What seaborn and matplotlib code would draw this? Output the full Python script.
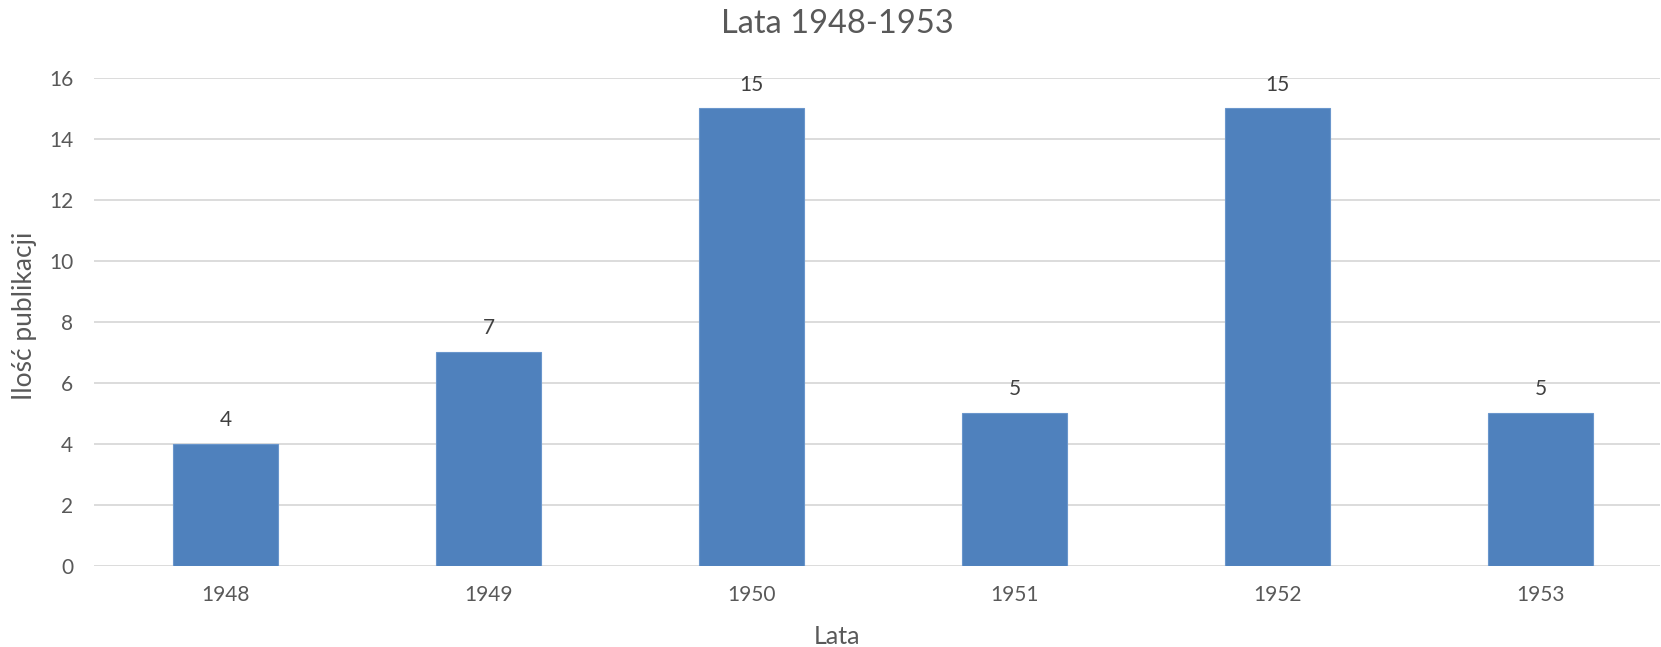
import seaborn as sns
import pandas as pd
import matplotlib.pyplot as plt

years = ['1948', '1949', '1950', '1951', '1952', '1953']
counts = [4, 7, 15, 5, 15, 5]

sns.set_theme(style='white')
plt.rcParams['font.family'] = ['Lato', 'DejaVu Sans']

df = pd.DataFrame({'Lata': years, 'count': counts})

W, H = 1661, 647
fig = plt.figure(figsize=(W / 100, H / 100), dpi=100)
# plot area in pixels: left 94, right 1660, top 78, bottom 565.5
ax = fig.add_axes([94 / W, (H - 565.5) / H, 1566 / W, 487.5 / H])

sns.barplot(data=df, x='Lata', y='count', color='#4F81BD', width=0.4,
            saturation=1, edgecolor='#6A96CC', linewidth=0.8, ax=ax, zorder=3)

ax.set_ylim(0, 16)
ax.set_yticks(range(0, 17, 2))
ax.set_xlim(-0.5, -0.5 + 1566 / 263)
ax.yaxis.grid(True, color='#D9D9D9', linewidth=1.3, zorder=0)
ax.xaxis.grid(False)
for s in ax.spines.values():
    s.set_visible(False)
ax.tick_params(axis='both', length=0, labelsize=15, labelcolor='#595959')
ax.tick_params(axis='x', pad=14)
ax.tick_params(axis='y', pad=15)

ax.bar_label(ax.containers[0], padding=10, fontsize=15, color='#404040')

ax.set_xlabel('')
ax.set_ylabel('')
fig.text(837 / W, 1 - 636 / H, 'Lata', ha='center', va='center',
         fontsize=18, color='#595959')
fig.text(25 / W, 1 - 316 / H, 'Ilość publikacji', ha='center', va='center',
         rotation=90, fontsize=19, color='#595959')

fig.text(837 / W, 1 - 24 / H, 'Lata 1948-1953', ha='center', va='center',
         fontsize=23.5, color='#595959')

fig.savefig('out.png', dpi=100)
